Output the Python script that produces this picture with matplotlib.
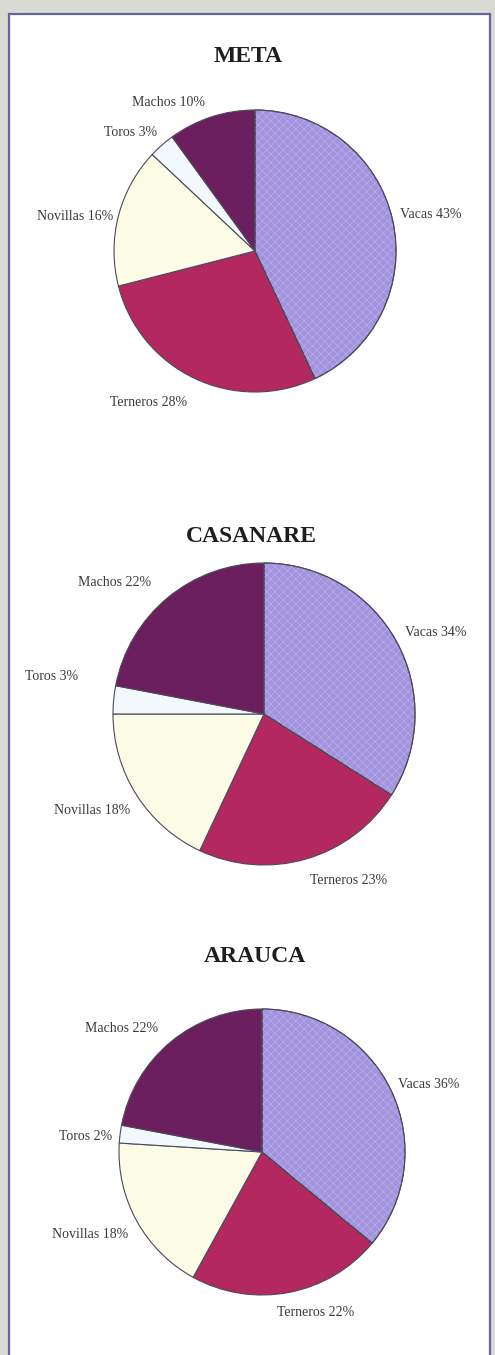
import matplotlib
matplotlib.use("Agg")
import matplotlib.pyplot as plt
from matplotlib.patches import Rectangle, Wedge

# datos: porcentaje del hato por departamento
categorias = ["Vacas", "Terneros", "Novillas", "Toros", "Machos"]
meta = [43, 28, 16, 3, 10]
casanare = [34, 23, 18, 3, 22]
arauca = [36, 22, 18, 2, 22]
titulos = ["META", "CASANARE", "ARAUCA"]

colores = ["#a293dc", "#b3285f", "#fbfbe6", "#f2f8fc", "#6c1f5e"]

plt.rcParams["hatch.linewidth"] = 0.5

W, H = 495, 1355
fig = plt.figure(figsize=(W / 100, H / 100), dpi=100)
fig.patch.set_facecolor("#d9dbd3")
ax = fig.add_axes([0, 0, 1, 1])
ax.set_xlim(0, W)
ax.set_ylim(0, H)
ax.axis("off")

# marco de la pagina
ax.add_patch(Rectangle((9, -5), 481, H - 14 + 5, facecolor="white",
                       edgecolor="#6464a4", linewidth=1.6, zorder=0))

# centro, radio y posicion del titulo (pixeles de la imagen)
pies = [
    dict(datos=meta, c=(255, 251), r=141, tx=248, ty=57,
         lab=[(400, 215, "left"), (110, 402, "left"), (113, 216, "right"),
              (157, 133, "right"), (132, 103, "left")]),
    dict(datos=casanare, c=(264, 714), r=151, tx=251, ty=537,
         lab=[(405, 632, "left"), (310, 880, "left"), (130, 810, "right"),
              (78, 676, "right"), (78, 583, "left")]),
    dict(datos=arauca, c=(262, 1152), r=143, tx=255, ty=957,
         lab=[(398, 1085, "left"), (277, 1313, "left"), (128, 1235, "right"),
              (112, 1137, "right"), (85, 1029, "left")]),
]

for p, titulo in zip(pies, titulos):
    cx, cy = p["c"][0], H - p["c"][1]
    wedges, _ = ax.pie(p["datos"], colors=colores, startangle=90, counterclock=False,
                       center=(cx, cy), radius=p["r"], frame=True,
                       wedgeprops=dict(edgecolor="#4c4a5c", linewidth=0.8))
    # trama fina de la tajada de vacas
    w = wedges[0]
    ax.add_patch(Wedge(w.center, w.r, w.theta1, w.theta2, fill=False,
                       hatch="xxxx", edgecolor="#b8adec", linewidth=0))
    ax.add_patch(Wedge(w.center, w.r, w.theta1, w.theta2, fill=False,
                       edgecolor="#4c4a5c", linewidth=0.8))
    ax.text(p["tx"], H - p["ty"], titulo, ha="center", va="center",
            family="Liberation Serif", fontweight="bold", fontsize=17,
            color="#1e1e1e")
    for (x, y, ha), cat, v in zip(p["lab"], categorias, p["datos"]):
        ax.text(x, H - y, "%s %d%%" % (cat, v), ha=ha, va="center",
                family="Liberation Serif", fontsize=10, color="#3a3a3a")

ax.set_xlim(0, W)
ax.set_ylim(0, H)
ax.set_aspect("auto")
fig.savefig("out.png", dpi=100, facecolor=fig.get_facecolor())
